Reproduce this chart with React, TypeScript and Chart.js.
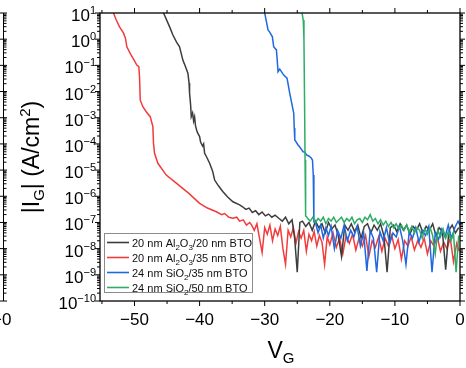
import React, { useEffect, useRef } from 'react';
import { Chart, registerables } from 'chart.js';

Chart.register(...registerables);

const FONT = '"Liberation Sans", Arial, Helvetica, sans-serif';

const seriesLabels = [
  '20 nm Al₂O₃/20 nm BTO',
  '20 nm Al₂O₃/35 nm BTO',
  '24 nm SiO₂/35 nm BTO',
  '24 nm SiO₂/50 nm BTO',
];
const seriesColors = ['#3d3d3d', '#f23b3b', '#1f68e0', '#2fac66'];
const seriesOrder = [2, 3, 1, 0];

// [V_G (V), log10 |I_G| (A/cm^2)]
const blackCurve: [number, number][] = [
  [-45.54, 1.0], [-44.62, 0.48], [-44.1, 0.16], [-43.54, -0.11], [-43.08, -0.29], [-42.57, -0.8],
  [-42.15, -1.06], [-41.8, -1.3], [-41.62, -1.67], [-41.54, -2.07], [-41.38, -2.51], [-41.28, -2.96],
  [-41.08, -2.82], [-40.92, -3.13], [-40.77, -2.97], [-40.62, -3.32], [-40.46, -3.47], [-40.31, -3.58],
  [-40.0, -3.72], [-39.85, -3.93], [-39.54, -4.08], [-39.38, -4.0], [-39.23, -4.36], [-38.92, -4.5],
  [-38.46, -4.74], [-38.0, -5.04], [-37.69, -5.38], [-37.08, -5.61], [-36.41, -5.83], [-35.69, -6.03],
  [-34.88, -6.21], [-33.85, -6.33], [-33.4, -6.4], [-32.9, -6.5], [-32.4, -6.45], [-31.9, -6.62],
  [-31.4, -6.55], [-30.9, -6.7], [-30.4, -6.6], [-29.9, -6.75], [-29.4, -6.68], [-28.9, -6.8],
  [-28.4, -6.72], [-27.8, -6.85], [-27.3, -6.95], [-26.8, -6.8], [-26.3, -7.05], [-25.8, -6.9],
  [-25.4, -7.6], [-25.0, -8.9], [-24.6, -7.0], [-24.2, -6.95], [-23.7, -7.15], [-23.2, -7.0],
  [-22.7, -7.3], [-22.2, -6.95], [-21.7, -7.2], [-21.2, -7.05], [-20.7, -7.4], [-20.2, -7.0],
  [-19.7, -7.25], [-19.2, -7.1], [-18.7, -7.5], [-18.2, -8.3], [-17.7, -7.1], [-17.2, -7.3],
  [-16.7, -7.05], [-16.2, -7.35], [-15.7, -7.1], [-15.2, -7.6], [-14.7, -7.15], [-14.2, -7.05],
  [-13.7, -7.4], [-13.2, -7.1], [-12.7, -7.3], [-12.2, -7.05], [-11.7, -7.5], [-11.2, -8.9],
  [-10.7, -7.2], [-10.2, -7.1], [-9.7, -7.35], [-9.2, -7.05], [-8.7, -7.3], [-8.2, -7.1],
  [-7.7, -7.45], [-7.2, -7.15], [-6.7, -7.3], [-6.2, -7.05], [-5.7, -7.4], [-5.2, -7.15],
  [-4.7, -7.3], [-4.2, -7.05], [-3.7, -7.5], [-3.2, -7.2], [-2.7, -7.35], [-2.2, -8.8],
  [-1.7, -7.3], [-1.2, -7.1], [-0.7, -7.4], [-0.2, -7.2],
];

const redCurve: [number, number][] = [
  [-53.23, 1.0], [-52.8, 0.73], [-52.3, 0.47], [-51.7, 0.24], [-51.38, 0.03], [-51.18, -0.29],
  [-50.6, -0.57], [-50.0, -0.83], [-49.65, -0.99], [-49.34, -1.05], [-49.23, -1.43], [-49.12, -2.32],
  [-48.72, -2.58], [-48.2, -2.77], [-47.58, -2.96], [-47.18, -3.34], [-47.08, -3.98], [-46.92, -4.36],
  [-46.41, -4.74], [-45.12, -5.19], [-43.58, -5.5], [-41.65, -5.89], [-40.0, -6.27], [-38.8, -6.45],
  [-37.43, -6.59], [-36.6, -6.7], [-36.15, -6.66], [-35.5, -6.8], [-34.88, -6.84], [-34.3, -6.8],
  [-33.85, -6.95], [-33.3, -6.9], [-32.8, -7.1], [-32.3, -7.0], [-32.0, -7.1], [-31.6, -7.3],
  [-31.2, -7.05], [-30.8, -7.6], [-30.4, -8.15], [-30.0, -7.2], [-29.6, -7.45], [-29.2, -7.1],
  [-28.8, -7.7], [-28.4, -7.25], [-28.0, -7.5], [-27.6, -7.15], [-27.2, -8.0], [-26.8, -8.6],
  [-26.4, -7.3], [-26.0, -7.55], [-25.6, -7.2], [-25.2, -7.8], [-24.8, -7.35], [-24.4, -7.6],
  [-24.0, -7.3], [-23.6, -8.1], [-23.2, -7.45], [-22.8, -7.7], [-22.4, -7.35], [-22.0, -7.9],
  [-21.6, -7.5], [-21.2, -7.75], [-20.8, -8.6], [-20.4, -7.55], [-20.0, -7.85], [-19.5, -7.4],
  [-19.0, -7.95], [-18.5, -7.6], [-18.0, -8.2], [-17.5, -7.5], [-17.0, -7.8], [-16.5, -7.45],
  [-16.0, -8.05], [-15.5, -7.6], [-15.0, -7.9], [-14.5, -7.5], [-14.0, -8.3], [-13.5, -7.7],
  [-13.0, -7.95], [-12.5, -7.55], [-12.0, -8.1], [-11.5, -7.6], [-11.0, -7.9], [-10.5, -7.5],
  [-10.0, -8.0], [-9.5, -7.65], [-9.0, -8.4], [-8.5, -7.7], [-8.0, -7.9], [-7.5, -7.55],
  [-7.0, -8.05], [-6.5, -7.7], [-6.0, -7.95], [-5.5, -7.6], [-5.0, -8.2], [-4.5, -7.7],
  [-4.0, -7.9], [-3.5, -7.55], [-3.0, -8.1], [-2.5, -7.75], [-2.0, -8.0], [-1.5, -7.6],
  [-1.0, -8.5], [-0.5, -7.8], [-0.1, -8.1],
];

const blueCurve: [number, number][] = [
  [-30.0, 1.0], [-29.85, 0.81], [-29.49, 0.35], [-29.23, 0.27], [-28.82, 0.09], [-28.62, -0.29],
  [-28.2, -0.41], [-28.08, -0.8], [-27.95, -1.24], [-27.69, -1.14], [-27.43, -1.24], [-27.08, -1.37],
  [-26.57, -1.49], [-26.38, -1.75], [-26.15, -2.07], [-25.85, -2.44], [-25.54, -2.83], [-25.46, -3.39],
  [-25.38, -3.85], [-25.15, -3.93], [-24.88, -4.04], [-24.62, -4.12], [-24.31, -4.23], [-24.11, -4.3],
  [-23.85, -4.31], [-23.58, -4.42], [-23.23, -4.46], [-22.82, -4.55], [-22.66, -4.62], [-22.54, -5.19],
  [-22.46, -6.52], [-22.43, -6.98], [-22.2, -7.0], [-21.8, -7.4], [-21.4, -7.1], [-21.0, -7.6],
  [-20.6, -7.2], [-20.2, -7.5], [-19.8, -7.15], [-19.3, -8.0], [-18.8, -7.3], [-18.3, -7.6],
  [-17.8, -7.1], [-17.3, -7.7], [-16.8, -7.3], [-16.3, -7.55], [-15.8, -7.15], [-15.3, -7.9],
  [-14.8, -7.4], [-14.3, -8.85], [-13.8, -7.3], [-13.3, -7.6], [-12.8, -8.9], [-12.3, -7.35],
  [-11.8, -7.7], [-11.3, -7.2], [-10.8, -7.8], [-10.3, -7.4], [-9.8, -7.55], [-9.3, -7.15],
  [-8.8, -7.7], [-8.3, -8.6], [-7.8, -7.35], [-7.3, -7.6], [-6.8, -7.2], [-6.3, -7.75],
  [-5.8, -7.3], [-5.3, -7.5], [-4.8, -7.15], [-4.3, -8.9], [-3.8, -7.4], [-3.3, -7.65],
  [-2.8, -7.25], [-2.3, -7.55], [-1.8, -7.1], [-1.3, -7.6], [-0.8, -7.2], [-0.3, -6.95], [0.0, -7.1],
];

const greenCurve: [number, number][] = [
  [-24.26, 1.0], [-24.08, 0.73], [-23.97, -0.03], [-23.88, -2.32], [-23.8, -4.61], [-23.74, -6.33],
  [-23.69, -6.75], [-23.54, -6.79], [-23.4, -6.85], [-23.0, -6.95], [-22.6, -6.8], [-22.2, -7.0],
  [-21.8, -6.85], [-21.4, -6.95], [-21.0, -6.8], [-20.6, -7.05], [-20.2, -6.85], [-19.8, -6.95],
  [-19.4, -6.8], [-19.0, -7.0], [-18.6, -6.9], [-18.2, -6.8], [-17.8, -7.0], [-17.4, -6.85],
  [-17.0, -6.95], [-16.6, -6.8], [-16.2, -7.05], [-15.8, -6.9], [-15.4, -6.85], [-15.0, -7.0],
  [-14.6, -6.8], [-14.2, -6.9], [-13.8, -6.7], [-13.4, -6.95], [-13.0, -6.85], [-12.6, -7.05],
  [-12.2, -6.9], [-11.8, -7.1], [-11.4, -6.95], [-11.0, -7.15], [-10.6, -7.0], [-10.2, -7.2],
  [-9.8, -7.05], [-9.4, -7.25], [-9.0, -7.1], [-8.6, -7.3], [-8.2, -7.1], [-7.8, -7.35],
  [-7.4, -7.15], [-7.0, -7.4], [-6.6, -7.2], [-6.2, -7.3], [-5.8, -7.6], [-5.4, -7.25],
  [-5.0, -7.45], [-4.6, -7.2], [-4.2, -7.5], [-3.8, -8.2], [-3.4, -7.3], [-3.0, -7.55],
  [-2.6, -7.25], [-2.2, -7.6], [-1.8, -7.35], [-1.4, -7.7], [-1.0, -7.4], [-0.6, -8.9], [-0.2, -7.5],
];

const seriesCurves = [blackCurve, redCurve, blueCurve, greenCurve];

const xMin = -55.3;
const xMax = 0;
const yMin = 1e-10;
const yMax = 1e1;
const xMajorTicks = [-50, -40, -30, -20, -10, 0];
const xMinorTicks = [-55, -45, -35, -25, -15, -5];
const yDecades = [1, 0, -1, -2, -3, -4, -5, -6, -7, -8, -9, -10];
const xTitle = { main: 'V', sub: 'G' };
const fragmentLabel = '−0';

type Seg = { t: string; size: number; dy: number };

function segWidth(ctx: CanvasRenderingContext2D, segs: Seg[]) {
  let w = 0;
  for (const s of segs) {
    ctx.font = `${s.size}px ${FONT}`;
    w += ctx.measureText(s.t).width;
  }
  return w;
}

function drawRich(ctx: CanvasRenderingContext2D, segs: Seg[], x: number, y: number, align: 'left' | 'center' | 'right') {
  const total = segWidth(ctx, segs);
  let cx = align === 'left' ? x : align === 'center' ? x - total / 2 : x - total;
  ctx.textAlign = 'left';
  ctx.textBaseline = 'alphabetic';
  for (const s of segs) {
    ctx.font = `${s.size}px ${FONT}`;
    ctx.fillText(s.t, cx, y + s.dy);
    cx += ctx.measureText(s.t).width;
  }
}

const SUBS = '₀₁₂₃₄₅₆₇₈₉';
function labelSegs(label: string, size: number, subSize: number): Seg[] {
  const segs: Seg[] = [];
  for (const ch of label) {
    const i = SUBS.indexOf(ch);
    const isSub = i >= 0;
    const t = isSub ? String(i) : ch;
    const last = segs[segs.length - 1];
    const sz = isSub ? subSize : size;
    const dy = isSub ? 3 : 0;
    if (last && last.size === sz && last.dy === dy) last.t += t;
    else segs.push({ t, size: sz, dy });
  }
  return segs;
}

const minus = (n: number) => (n < 0 ? '−' + Math.abs(n) : String(n));

const decorPlugin = {
  id: 'decor',
  afterDraw(chart: any) {
    const ctx: CanvasRenderingContext2D = chart.ctx;
    const { left, right, top, bottom } = chart.chartArea;
    const xs = chart.scales.x;
    const ys = chart.scales.y;
    ctx.save();
    ctx.strokeStyle = '#000';
    ctx.fillStyle = '#000';

    // frame
    ctx.lineWidth = 1.3;
    ctx.strokeRect(left, top, right - left, bottom - top);

    // ticks
    ctx.lineWidth = 1;
    ctx.beginPath();
    const seg = (x1: number, y1: number, x2: number, y2: number) => {
      ctx.moveTo(x1, y1);
      ctx.lineTo(x2, y2);
    };
    for (const v of xMajorTicks) {
      const px = xs.getPixelForValue(v);
      seg(px, bottom, px, bottom + 5);
      seg(px, top, px, top - 5);
    }
    for (const v of xMinorTicks) {
      const px = xs.getPixelForValue(v);
      seg(px, bottom, px, bottom + 3);
      seg(px, top, px, top - 3);
    }
    for (const e of yDecades) {
      const py = ys.getPixelForValue(Math.pow(10, e));
      seg(left, py, left - 5, py);
      seg(right, py, right + 5, py);
      seg(0, py, 7, py);
      if (e < 1) {
        for (let m = 2; m <= 9; m++) {
          const pm = ys.getPixelForValue(m * Math.pow(10, e));
          seg(left, pm, left - 3, pm);
          seg(right, pm, right + 3, pm);
          seg(3.5, pm, 6.5, pm);
        }
      }
    }
    // fragment axis of neighbouring panel
    seg(3.5, top, 3.5, bottom);
    ctx.stroke();

    // x tick labels
    for (const v of xMajorTicks) {
      const px = xs.getPixelForValue(v);
      drawRich(ctx, [{ t: minus(v), size: 17, dy: 0 }], px, bottom + 24, 'center');
    }
    drawRich(ctx, [{ t: fragmentLabel, size: 17, dy: 0 }], 11.5, bottom + 24, 'right');

    // y tick labels
    for (const e of yDecades) {
      const py = ys.getPixelForValue(Math.pow(10, e));
      drawRich(
        ctx,
        [
          { t: '10', size: 17, dy: 0 },
          { t: minus(e), size: 11, dy: -7 },
        ],
        left - 4,
        py + 8,
        'right'
      );
    }

    // x title
    drawRich(
      ctx,
      [
        { t: xTitle.main, size: 23, dy: 0 },
        { t: xTitle.sub, size: 15, dy: 5 },
      ],
      (left + right) / 2 + 1,
      bottom + 57,
      'center'
    );

    // y title
    ctx.save();
    ctx.translate(38.5, (top + bottom) / 2);
    ctx.rotate(-Math.PI / 2);
    drawRich(
      ctx,
      [
        { t: '|I', size: 23, dy: 0 },
        { t: 'G', size: 15, dy: 5 },
        { t: '| (A/cm', size: 23, dy: 0 },
        { t: '2', size: 15, dy: -9 },
        { t: ')', size: 23, dy: 0 },
      ],
      0,
      0,
      'center'
    );
    ctx.restore();

    // legend
    const lx = left + 4;
    const ly = bottom - 68;
    const lw = 148;
    const lh = 59;
    ctx.fillStyle = '#fff';
    ctx.fillRect(lx, ly, lw, lh);
    ctx.strokeStyle = '#8c8c8c';
    ctx.lineWidth = 1;
    ctx.strokeRect(lx + 0.5, ly + 0.5, lw, lh);
    chart.data.datasets.forEach((ds: any, i: number) => {
      const cy = ly + 9.5 + i * 15;
      ctx.strokeStyle = ds.borderColor;
      ctx.lineWidth = 1.6;
      ctx.beginPath();
      ctx.moveTo(lx + 3, cy);
      ctx.lineTo(lx + 25, cy);
      ctx.stroke();
      ctx.fillStyle = '#111';
      drawRich(ctx, labelSegs(ds.label, 11, 8), lx + 28, cy + 4, 'left');
    });

    ctx.restore();
  },
};

export default function App() {
  const canvasRef = useRef<HTMLCanvasElement | null>(null);

  useEffect(() => {
    if (!canvasRef.current) return;
    const chart = new Chart(canvasRef.current, {
      type: 'line',
      data: {
        datasets: seriesCurves.map((curve, i) => ({
          label: seriesLabels[i],
          data: curve.map(([v, e]) => ({ x: v, y: Math.pow(10, e) })),
          borderColor: seriesColors[i],
          backgroundColor: seriesColors[i],
          borderWidth: 1.5,
          pointRadius: 0,
          tension: 0,
          fill: false,
          clip: 0,
          order: seriesOrder[i],
        })),
      },
      options: {
        responsive: false,
        maintainAspectRatio: false,
        animation: false,
        events: [],
        layout: { padding: { left: 100, right: 6, top: 13, bottom: 67 } },
        scales: {
          x: { type: 'linear', min: xMin, max: xMax, display: false },
          y: { type: 'logarithmic', min: yMin, max: yMax, display: false },
        },
        plugins: {
          legend: { display: false },
          tooltip: { enabled: false },
          title: { display: false },
        },
      },
      plugins: [decorPlugin],
    });
    return () => chart.destroy();
  }, []);

  return (
    <div style={{ position: 'absolute', left: 0, top: 0, width: 466, height: 368, background: '#fff' }}>
      <canvas ref={canvasRef} width={466} height={368} />
    </div>
  );
}
